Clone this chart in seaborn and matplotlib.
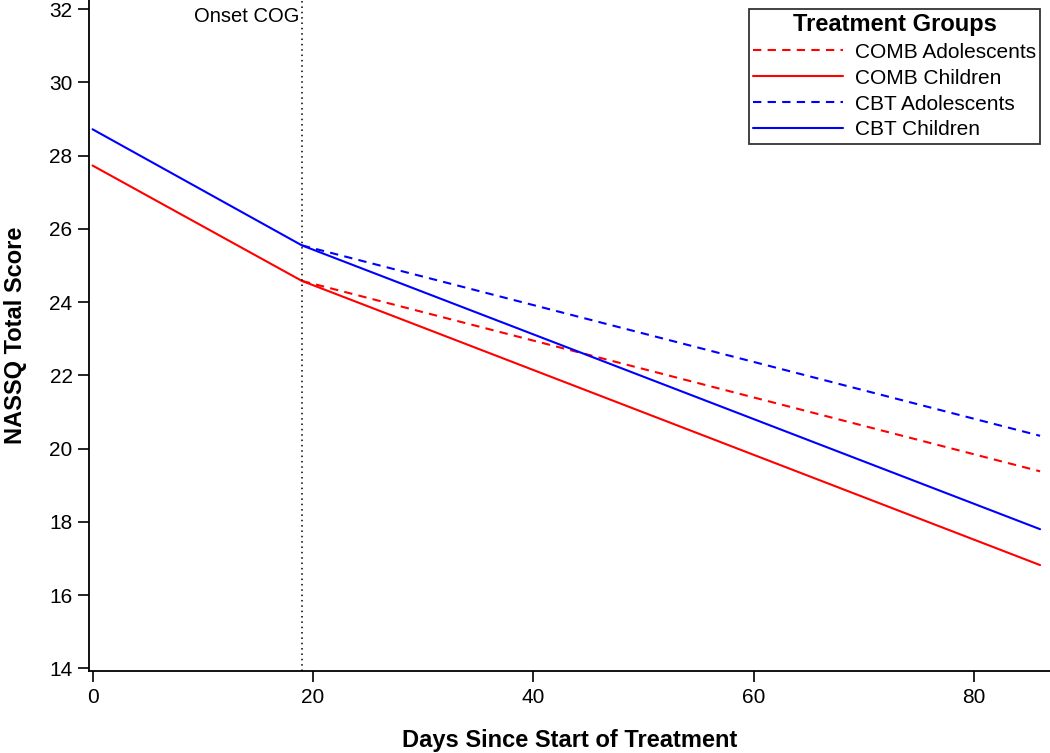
import numpy as np
import pandas as pd
import seaborn as sns
import matplotlib.pyplot as plt
from matplotlib.lines import Line2D

# Fitted trajectories
groups = ["COMB Adolescents", "COMB Children", "CBT Adolescents", "CBT Children"]
days = {
    "COMB Adolescents": [19, 86],
    "COMB Children": [0, 19, 86],
    "CBT Adolescents": [19, 86],
    "CBT Children": [0, 19, 86],
}
scores = {
    "COMB Adolescents": [24.58, 19.38],
    "COMB Children": [27.73, 24.58, 16.82],
    "CBT Adolescents": [25.55, 20.35],
    "CBT Children": [28.72, 25.55, 17.80],
}
onset_day = 19
yticks = [14, 16, 18, 20, 22, 24, 26, 28, 30, 32]
xticks = [0, 20, 40, 60, 80]

rows = []
for g in groups:
    for d, s in zip(days[g], scores[g]):
        rows.append({"Day": d, "Score": s, "Group": g})
df = pd.DataFrame(rows)

sns.set_style("ticks")
plt.rcParams['font.family'] = ['Liberation Sans', 'DejaVu Sans']
plt.rcParams['text.color'] = 'black'
plt.rcParams['axes.labelcolor'] = 'black'
plt.rcParams['xtick.color'] = 'black'
plt.rcParams['ytick.color'] = 'black'
plt.rcParams['axes.edgecolor'] = 'black'

colors = {"COMB Adolescents": "#ff0000", "COMB Children": "#ff0000",
          "CBT Adolescents": "#0000ff", "CBT Children": "#0000ff"}
dash_map = {"COMB Adolescents": (4, 3), "COMB Children": "",
            "CBT Adolescents": (4, 3), "CBT Children": ""}

fig = plt.figure(figsize=(10.5, 7.53), dpi=100)
ax = fig.add_axes([0.085, 0.109, 0.915, 0.891])

sns.lineplot(data=df, x="Day", y="Score", hue="Group", style="Group",
             hue_order=groups, style_order=groups, palette=colors,
             dashes=dash_map, linewidth=1.5, ax=ax, legend=False)

ax.axvline(onset_day, color="black", linestyle=(0, (1, 2.5)), linewidth=1.1)
ax.text(onset_day - 0.2, 31.8, "Onset COG", ha="right", va="center", fontsize=14.5)

ax.set_xlim(-0.3, 86.9)
ax.set_ylim(13.93, 32.25)
ax.set_xticks(xticks)
ax.set_yticks(yticks)
ax.tick_params(labelsize=15, length=8, width=1.2, pad=4)
for sp in ["top", "right"]:
    ax.spines[sp].set_visible(False)
for sp in ["left", "bottom"]:
    ax.spines[sp].set_linewidth(1.3)

ax.set_xlabel("Days Since Start of Treatment", fontsize=17, fontweight="bold", labelpad=16)
ax.set_ylabel("NASSQ Total Score", fontsize=17, fontweight="bold", labelpad=16)

handles = [Line2D([], [], color=colors[g], linewidth=1.5,
                  linestyle=(0, (4, 3)) if dash_map[g] else "-") for g in groups]
leg = ax.legend(handles, groups, title="Treatment Groups", loc="upper right",
                bbox_to_anchor=(0.99, 0.987), fontsize=15, title_fontsize=17,
                frameon=True, fancybox=False, borderpad=0.2, labelspacing=0.33,
                handlelength=4.3, handletextpad=0.6, borderaxespad=0)
leg.get_title().set_fontweight("bold")
leg.get_frame().set_edgecolor("black")
leg.get_frame().set_linewidth(1.3)

fig.savefig("out.png", dpi=100)
